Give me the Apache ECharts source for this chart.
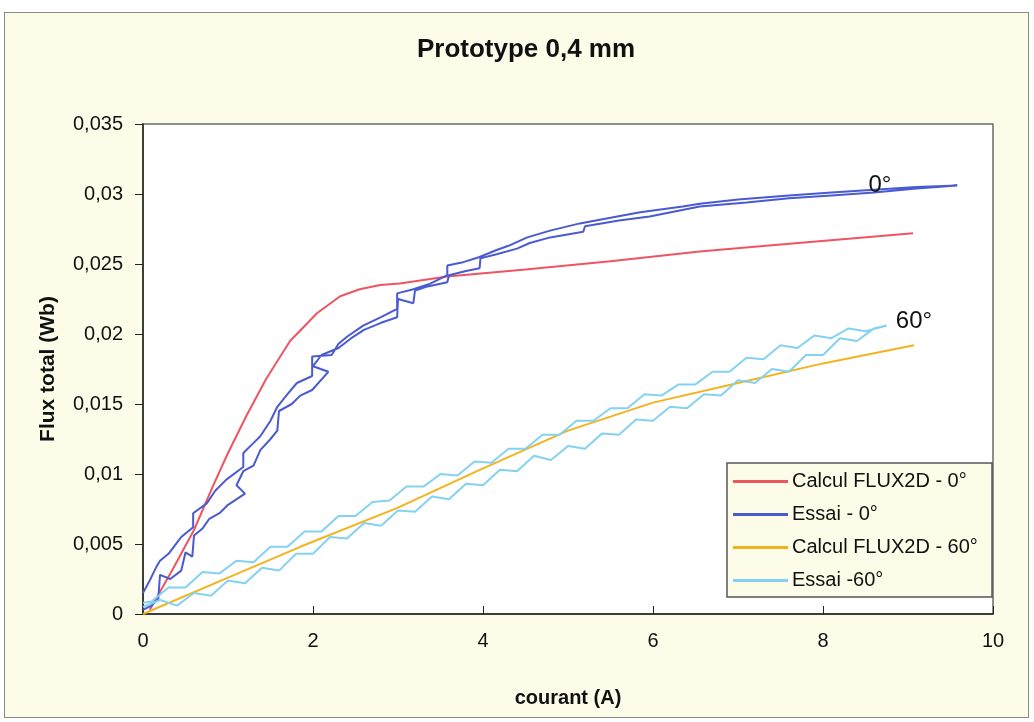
<!DOCTYPE html>
<html>
<head>
<meta charset="utf-8">
<script src="https://cdn.jsdelivr.net/npm/echarts@6/dist/echarts.min.js"></script>
<style>
html,body{margin:0;padding:0;background:#ffffff;}
#frame{position:absolute;left:4px;top:12px;width:1025px;height:706px;background:#fdfce8;border:1.5px solid #8a8a86;box-sizing:border-box;}
#chart{position:absolute;left:0;top:0;width:1034px;height:722px;}
</style>
</head>
<body>
<div id="frame"></div>
<div id="chart"></div>
<script>
// ---- data ----
const titleText = 'Prototype 0,4 mm';
const xAxisName = 'courant (A)';
const yAxisName = 'Flux total (Wb)';
const xTickLabels = ['0', '2', '4', '6', '8', '10'];
const yTickLabels = ['0', '0,005', '0,01', '0,015', '0,02', '0,025', '0,03', '0,035'];
const seriesNames = ['Calcul FLUX2D - 0°', 'Essai - 0°', 'Calcul FLUX2D - 60°', 'Essai -60°'];

const calcul0 = [[0.08,0.0003],[0.35,0.0032],[0.6,0.006],[0.82,0.0091],[1.0,0.0115],[1.22,0.0142],
  [1.45,0.0168],[1.73,0.0195],[2.05,0.0215],[2.32,0.0227],[2.55,0.0232],[2.79,0.0235],[3.02,0.0236],
  [3.58,0.0241],[4.5,0.0246],[5.5,0.0252],[6.55,0.0259],[7.5,0.0264],[8.3,0.0268],[9.06,0.0272]];

const essai0Up = [[0,0.0003],[0.1,0.0006],[0.18,0.0011],[0.2,0.0028],[0.32,0.0025],[0.45,0.0031],[0.5,0.0044],
  [0.58,0.0041],[0.6,0.0056],[0.7,0.0061],[0.78,0.0068],[0.9,0.0072],[1.0,0.0078],[1.2,0.0086],[1.1,0.0092],
  [1.18,0.0102],[1.3,0.0106],[1.38,0.0117],[1.5,0.0125],[1.58,0.0131],[1.6,0.0145],[1.75,0.015],[1.85,0.0156],
  [1.99,0.016],[2.18,0.0173],[2.0,0.0177],[2.1,0.0185],[2.3,0.019],[2.45,0.0197],[2.6,0.0203],[2.8,0.0208],
  [2.99,0.0212],[3.0,0.0225],[3.18,0.0222],[3.2,0.0231],[3.35,0.0234],[3.58,0.0237],[3.6,0.0242],[3.8,0.0245],
  [3.96,0.0247],[3.97,0.0254],[4.16,0.0257],[4.4,0.0261],[4.55,0.0265],[4.79,0.0269],[5.18,0.0273],[5.2,0.0277],
  [5.6,0.0281],[5.96,0.0284],[6.55,0.0291],[7.1,0.0294],[7.6,0.0297],[8.1,0.0299],[8.6,0.0301],[9.1,0.0304],[9.58,0.0306]];
const essai0Down = [[9.58,0.0306],[9.1,0.0305],[8.6,0.0303],[8.1,0.0301],[7.6,0.0299],[7.0,0.0296],[6.55,0.0293],
  [6.35,0.0291],[5.85,0.0287],[5.5,0.0283],[5.14,0.0279],[4.8,0.0274],[4.52,0.0269],[4.3,0.0263],[4.16,0.026],
  [3.96,0.0255],[3.75,0.0251],[3.58,0.0249],[3.58,0.0242],[3.38,0.0236],[3.18,0.0232],[2.99,0.0229],[2.99,0.0218],
  [2.8,0.0212],[2.59,0.0206],[2.4,0.0198],[2.3,0.0193],[2.22,0.0185],[1.99,0.0184],[1.99,0.017],[1.81,0.0165],
  [1.7,0.0157],[1.58,0.0148],[1.5,0.0138],[1.38,0.0127],[1.28,0.0121],[1.18,0.0115],[1.18,0.0105],[0.98,0.0096],
  [0.85,0.0088],[0.75,0.0079],[0.59,0.0072],[0.59,0.0062],[0.45,0.0055],[0.4,0.0051],[0.3,0.0043],[0.2,0.0038],
  [0.16,0.0034],[0.08,0.0024],[0,0.0015]];

const calcul60 = [[0,0],[1,0.0026],[1.85,0.0048],[3,0.0076],[4,0.0104],[5,0.0131],[6,0.0151],[7,0.0165],
  [8,0.0179],[9.07,0.0192]];

const essai60Up = [[0,0.0005],[0.2,0.001],[0.4,0.0006],[0.6,0.0015],[0.8,0.0013],[1.0,0.0024],[1.2,0.0022],
  [1.4,0.0033],[1.6,0.0031],[1.8,0.0043],[2.0,0.0043],[2.2,0.0055],[2.4,0.0054],[2.6,0.0065],[2.8,0.0063],
  [3.0,0.0074],[3.2,0.0073],[3.4,0.0084],[3.6,0.0082],[3.8,0.0093],[4.0,0.0092],[4.2,0.0103],[4.4,0.0102],
  [4.6,0.0113],[4.8,0.011],[5.0,0.012],[5.2,0.0118],[5.4,0.0129],[5.6,0.0128],[5.8,0.0139],[6.0,0.0138],
  [6.2,0.0148],[6.4,0.0147],[6.6,0.0157],[6.8,0.0156],[7.0,0.0167],[7.2,0.0165],[7.4,0.0175],[7.6,0.0173],
  [7.8,0.0185],[8.0,0.0185],[8.2,0.0197],[8.4,0.0195],[8.6,0.0204],[8.75,0.0206]];
const essai60Down = [[8.75,0.0206],[8.5,0.0202],[8.3,0.0204],[8.1,0.0197],[7.9,0.0199],[7.7,0.019],[7.5,0.0192],
  [7.3,0.0182],[7.1,0.0183],[6.9,0.0173],[6.7,0.0173],[6.5,0.0164],[6.3,0.0164],[6.1,0.0156],[5.9,0.0157],
  [5.7,0.0147],[5.5,0.0147],[5.3,0.0138],[5.1,0.0138],[4.9,0.0128],[4.7,0.0128],[4.5,0.0118],[4.3,0.0118],
  [4.1,0.0108],[3.9,0.0109],[3.7,0.0099],[3.5,0.01],[3.3,0.0091],[3.1,0.0091],[2.9,0.0081],[2.7,0.008],
  [2.5,0.007],[2.3,0.007],[2.1,0.0059],[1.9,0.0059],[1.7,0.0048],[1.5,0.0048],[1.3,0.0037],[1.1,0.0038],
  [0.9,0.0029],[0.7,0.003],[0.5,0.0019],[0.3,0.0019],[0.1,0.0009],[0,0.0008]];

const label0 = {text: '0°', coord: [8.67, 0.0306]};
const label60 = {text: '60°', coord: [9.07, 0.0209]};

// ---- chart ----
const FONT = 'Liberation Sans, Arial, sans-serif';
const chart = echarts.init(document.getElementById('chart'), null, {renderer: 'canvas'});

function lineSeries(name, data, color, lab) {
  const s = {
    name: name, type: 'line', data: data, showSymbol: false, symbol: 'none',
    lineStyle: {color: color, width: 2}, itemStyle: {color: color}, smooth: false
  };
  if (lab) {
    s.markPoint = {
      symbol: 'circle', symbolSize: 0, silent: true,
      label: {show: true, position: 'inside', formatter: lab.text, color: '#111', fontSize: 24, fontFamily: FONT},
      data: [{coord: lab.coord}]
    };
  }
  return s;
}

chart.setOption({
  animation: false,
  backgroundColor: 'transparent',
  title: {
    text: titleText, left: 521, top: 32, textAlign: 'center',
    textStyle: {fontFamily: FONT, fontWeight: 'bold', fontSize: 26, color: '#111'}
  },
  grid: {
    left: 143, top: 124, right: 41, bottom: 108, show: true,
    backgroundColor: '#ffffff', borderColor: '#6b6b6b', borderWidth: 1.5
  },
  legend: {
    orient: 'vertical', left: 727, top: 463,
    padding: [8, 6, 6, 6], itemGap: 12, itemWidth: 55, itemHeight: 3, icon: 'rect',
    backgroundColor: '#fdfce8', borderColor: '#555', borderWidth: 1.5,
    textStyle: {fontFamily: FONT, fontSize: 20, color: '#111', padding: [0, 0, 0, -1], width: 194, lineHeight: 21},
    data: seriesNames
  },
  xAxis: {
    type: 'value', min: 0, max: 10, interval: 2,
    name: xAxisName, nameLocation: 'middle', nameGap: 74,
    nameTextStyle: {fontFamily: FONT, fontWeight: 'bold', fontSize: 20, color: '#111'},
    axisLine: {show: true, lineStyle: {color: '#222', width: 1.5}},
    axisTick: {show: true, inside: true, length: 8, lineStyle: {color: '#222'}},
    splitLine: {show: false},
    axisLabel: {
      margin: 17, fontFamily: FONT, fontSize: 20, color: '#111',
      formatter: v => xTickLabels[Math.round(v / 2)]
    }
  },
  yAxis: {
    type: 'value', min: 0, max: 0.035, interval: 0.005,
    name: yAxisName, nameLocation: 'middle', nameGap: 84, nameRotate: 90,
    nameTextStyle: {fontFamily: FONT, fontWeight: 'bold', fontSize: 21, color: '#111'},
    axisLine: {show: true, lineStyle: {color: '#222', width: 1.5}},
    axisTick: {show: true, length: 8, lineStyle: {color: '#222'}},
    splitLine: {show: false},
    axisLabel: {
      margin: 20, fontFamily: FONT, fontSize: 20, color: '#111',
      formatter: v => yTickLabels[Math.round(v / 0.005)]
    }
  },
  series: [
    lineSeries(seriesNames[0], calcul0, '#ee5560'),
    lineSeries(seriesNames[1], essai0Up.concat(essai0Down), '#4a5ad0', label0),
    lineSeries(seriesNames[2], calcul60, '#f5b21f'),
    lineSeries(seriesNames[3], essai60Up.concat(essai60Down), '#84d2f2', label60)
  ]
});
</script>
</body>
</html>
